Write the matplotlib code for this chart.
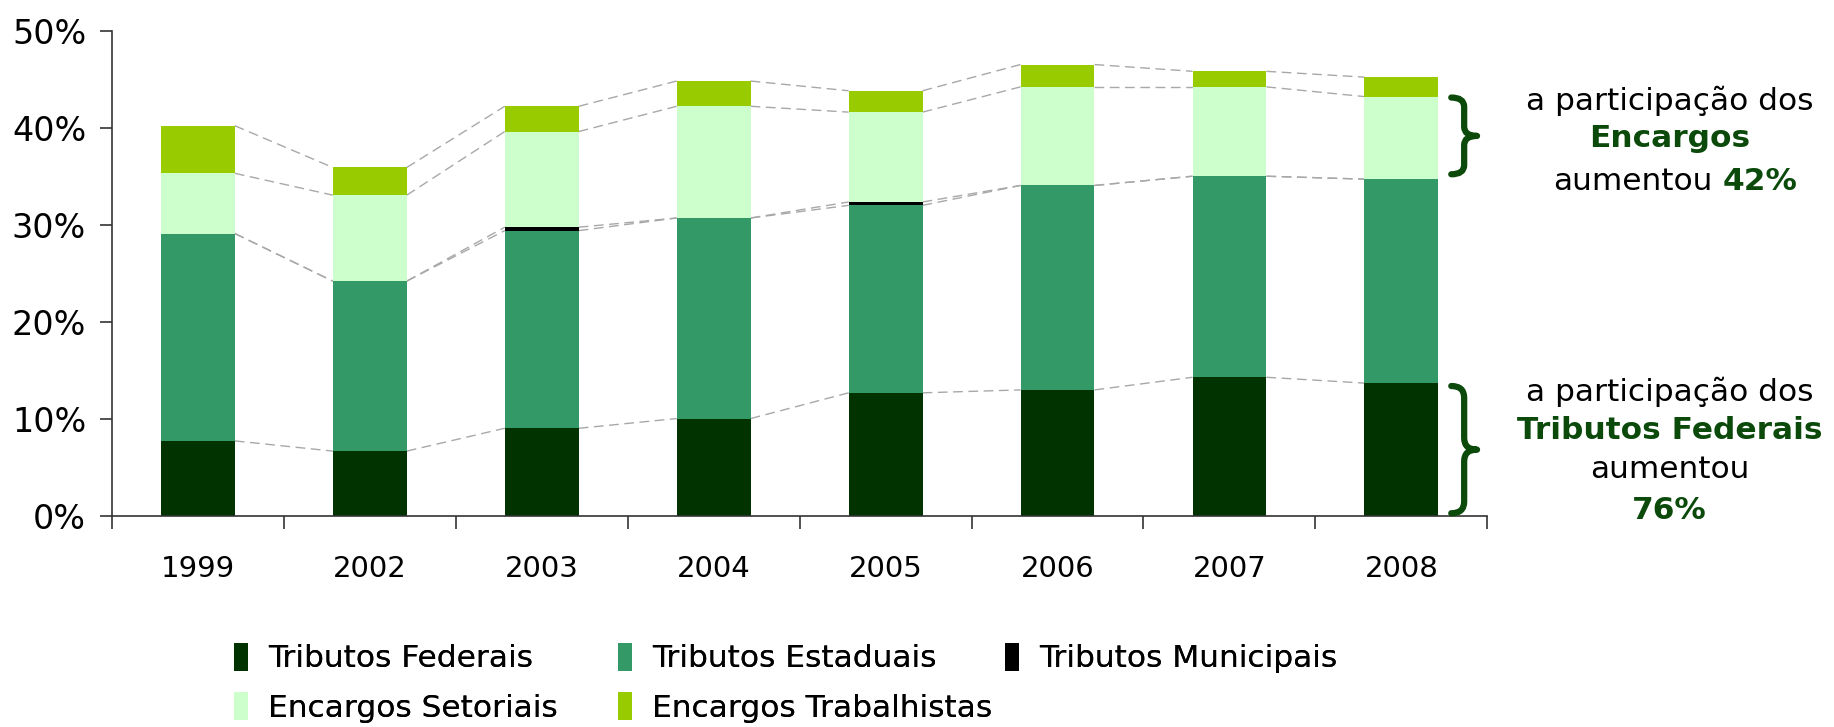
import numpy as np
import matplotlib.pyplot as plt
from matplotlib.path import Path
from matplotlib.patches import PathPatch, Patch

plt.rcParams['font.family'] = ['DejaVu Sans']

# Data (percentage of each component)
years = ['1999', '2002', '2003', '2004', '2005', '2006', '2007', '2008']
trib_federais = [7.75, 6.7, 9.05, 10.05, 12.7, 13.0, 14.3, 13.7]
trib_estaduais = [21.35, 17.5, 20.35, 20.65, 19.3, 21.05, 20.7, 21.0]
trib_municipais = [0.0, 0.0, 0.35, 0.0, 0.35, 0.0, 0.0, 0.0]
enc_setoriais = [6.2, 8.85, 9.85, 11.5, 9.25, 10.15, 9.2, 8.5]
enc_trabalhistas = [4.9, 2.85, 2.6, 2.6, 2.2, 2.3, 1.6, 2.0]

labels = ['Tributos Federais', 'Tributos Estaduais', 'Tributos Municipais',
          'Encargos Setoriais', 'Encargos Trabalhistas']
colors = ['#003300', '#339966', '#000000', '#CCFFCC', '#99CC00']
series = [trib_federais, trib_estaduais, trib_municipais, enc_setoriais, enc_trabalhistas]

fig = plt.figure(figsize=(18.34, 7.27), dpi=100)
ax = fig.add_axes([0.061, 0.290, 0.750, 0.668])

x = np.arange(len(years))
w = 0.43
bottom = np.zeros(len(years))
tops = []
for vals, col in zip(series, colors):
    vals = np.array(vals)
    ax.bar(x, vals, w, bottom=bottom, color=col, linewidth=0, zorder=2)
    bottom = bottom + vals
    tops.append(bottom.copy())

# dashed connectors between bars
for top in tops:
    for i in range(len(years) - 1):
        ax.plot([x[i] + w/2, x[i+1] - w/2], [top[i], top[i+1]],
                color='#A8A8A8', linestyle=(0, (7, 4)), linewidth=1.0, zorder=1)

ax.set_xlim(-0.5, len(years) - 0.5)
ax.set_ylim(0, 50)
ax.set_yticks(np.arange(0, 51, 10))
ax.set_yticklabels([f'{v}%' for v in range(0, 51, 10)])
ax.set_xticks(x)
ax.set_xticklabels(years)
ax.set_xticks(np.arange(-0.5, len(years), 1), minor=True)
ax.tick_params(axis='x', which='major', length=0, labelsize=21, pad=28)
ax.tick_params(axis='x', which='minor', length=9, width=1.2, color='#333333')
ax.tick_params(axis='y', length=9, width=1.2, color='#333333', labelsize=24, pad=9.5)
for s in ['top', 'right']:
    ax.spines[s].set_visible(False)
for s in ['left', 'bottom']:
    ax.spines[s].set_color('#333333')
    ax.spines[s].set_linewidth(1.2)


def draw_brace(ax, x0, y0, y1, width, color='#0B4A0B'):
    # curly brace opening to the left, tip pointing right
    ym = (y0 + y1) / 2
    h = y1 - y0
    xm = x0 + width * 0.5
    k = min(h * 0.12, 1.2)
    verts = [(x0, y0), (xm, y0), (xm, y0 + k),
             (xm, ym - k), (xm, ym), (x0 + width, ym),
             (xm, ym), (xm, ym + k),
             (xm, y1 - k), (xm, y1), (x0, y1)]
    codes = [Path.MOVETO, Path.CURVE3, Path.CURVE3,
             Path.LINETO, Path.CURVE3, Path.CURVE3,
             Path.CURVE3, Path.CURVE3,
             Path.LINETO, Path.CURVE3, Path.CURVE3]
    ax.add_patch(PathPatch(Path(verts, codes), fill=False, edgecolor=color,
                           linewidth=4.5, clip_on=False, capstyle='round',
                           joinstyle='round', zorder=5))


green_txt = '#0B4A0B'
draw_brace(ax, 7.29, 35.2, 43.1, 0.15)
draw_brace(ax, 7.29, 0.3, 13.4, 0.15)

fs = 22.5
tx = 8.56
ax.text(tx, 42.8, 'a participação dos', ha='center', va='center', fontsize=fs)
ax.text(tx, 38.9, 'Encargos', ha='center', va='center', fontsize=fs,
        fontweight='bold', color=green_txt)
ax.text(8.81, 34.5, 'aumentou', ha='right', va='center', fontsize=fs)
ax.text(8.87, 34.5, '42%', ha='left', va='center', fontsize=fs,
        fontweight='bold', color=green_txt)

ax.text(tx, 12.8, 'a participação dos', ha='center', va='center', fontsize=fs)
ax.text(tx, 8.8, 'Tributos Federais', ha='center', va='center', fontsize=fs,
        fontweight='bold', color=green_txt)
ax.text(tx, 4.8, 'aumentou', ha='center', va='center', fontsize=fs)
ax.text(tx, 0.6, '76%', ha='center', va='center', fontsize=fs,
        fontweight='bold', color=green_txt)

# legend: one entry per box so each sits where it does in the original
leg_pos = [(0.1276, 0.095), (0.337, 0.095), (0.548, 0.095),
           (0.1276, 0.027), (0.337, 0.027)]
for lab, col, (lx, ly) in zip(labels, colors, leg_pos):
    lg = fig.legend([Patch(facecolor=col, edgecolor='none')], [lab],
                    loc='center left', bbox_to_anchor=(lx, ly),
                    frameon=False, fontsize=22.5, handlelength=0.45,
                    handleheight=1.0, handletextpad=0.65,
                    borderpad=0, borderaxespad=0)
    fig.add_artist(lg)

fig.savefig('out.png', dpi=100)
